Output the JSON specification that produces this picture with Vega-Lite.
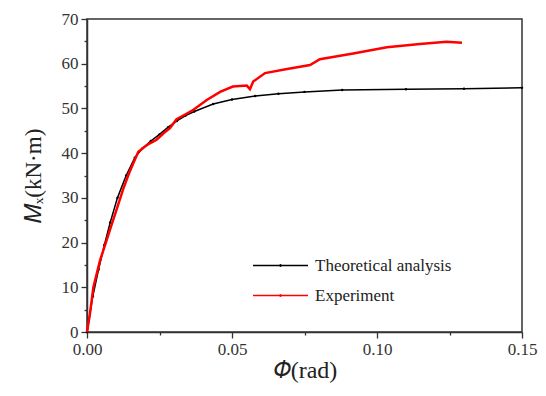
{
  "$schema": "https://vega.github.io/schema/vega-lite/v6.json",
  "autosize": {"type": "none"},
  "padding": {"left": 87, "top": 19, "right": 24, "bottom": 64},
  "width": 435,
  "height": 313,
  "background": "white",
  "config": {
    "view": {"stroke": "#333333", "strokeWidth": 1.5},
    "axis": {
      "domainColor": "#333333",
      "domainWidth": 1.5,
      "tickColor": "#333333",
      "tickWidth": 1.3,
      "grid": false
    }
  },
  "data": {
    "values": [
      {"phi": 0, "m": 0, "s": "Theoretical analysis"},
      {"phi": 0.002, "m": 8, "s": "Theoretical analysis"},
      {"phi": 0.004, "m": 14, "s": "Theoretical analysis"},
      {"phi": 0.006, "m": 19.5, "s": "Theoretical analysis"},
      {"phi": 0.008, "m": 24.5, "s": "Theoretical analysis"},
      {"phi": 0.0105, "m": 30, "s": "Theoretical analysis"},
      {"phi": 0.0135, "m": 35, "s": "Theoretical analysis"},
      {"phi": 0.0165, "m": 39, "s": "Theoretical analysis"},
      {"phi": 0.019, "m": 41, "s": "Theoretical analysis"},
      {"phi": 0.022, "m": 42.7, "s": "Theoretical analysis"},
      {"phi": 0.025, "m": 44.2, "s": "Theoretical analysis"},
      {"phi": 0.028, "m": 45.8, "s": "Theoretical analysis"},
      {"phi": 0.031, "m": 47.2, "s": "Theoretical analysis"},
      {"phi": 0.034, "m": 48.4, "s": "Theoretical analysis"},
      {"phi": 0.037, "m": 49.3, "s": "Theoretical analysis"},
      {"phi": 0.0435, "m": 51.0, "s": "Theoretical analysis"},
      {"phi": 0.05, "m": 52.0, "s": "Theoretical analysis"},
      {"phi": 0.058, "m": 52.8, "s": "Theoretical analysis"},
      {"phi": 0.066, "m": 53.3, "s": "Theoretical analysis"},
      {"phi": 0.075, "m": 53.7, "s": "Theoretical analysis"},
      {"phi": 0.088, "m": 54.1, "s": "Theoretical analysis"},
      {"phi": 0.11, "m": 54.3, "s": "Theoretical analysis"},
      {"phi": 0.13, "m": 54.4, "s": "Theoretical analysis"},
      {"phi": 0.15, "m": 54.6, "s": "Theoretical analysis"},
      {"phi": 0, "m": 0, "s": "Experiment"},
      {"phi": 0.001, "m": 4, "s": "Experiment"},
      {"phi": 0.0022, "m": 10, "s": "Experiment"},
      {"phi": 0.0045, "m": 16, "s": "Experiment"},
      {"phi": 0.0065, "m": 20, "s": "Experiment"},
      {"phi": 0.0085, "m": 24, "s": "Experiment"},
      {"phi": 0.0105, "m": 28, "s": "Experiment"},
      {"phi": 0.0125, "m": 32, "s": "Experiment"},
      {"phi": 0.0145, "m": 35.5, "s": "Experiment"},
      {"phi": 0.016, "m": 37.8, "s": "Experiment"},
      {"phi": 0.0177, "m": 40.3, "s": "Experiment"},
      {"phi": 0.02, "m": 41.5, "s": "Experiment"},
      {"phi": 0.0217, "m": 42.2, "s": "Experiment"},
      {"phi": 0.024, "m": 43, "s": "Experiment"},
      {"phi": 0.0265, "m": 44.5, "s": "Experiment"},
      {"phi": 0.0286, "m": 45.6, "s": "Experiment"},
      {"phi": 0.0309, "m": 47.6, "s": "Experiment"},
      {"phi": 0.034, "m": 48.7, "s": "Experiment"},
      {"phi": 0.0367, "m": 49.7, "s": "Experiment"},
      {"phi": 0.0413, "m": 51.9, "s": "Experiment"},
      {"phi": 0.0459, "m": 53.7, "s": "Experiment"},
      {"phi": 0.0503, "m": 54.9, "s": "Experiment"},
      {"phi": 0.0551, "m": 55.1, "s": "Experiment"},
      {"phi": 0.0562, "m": 54.3, "s": "Experiment"},
      {"phi": 0.0573, "m": 56.0, "s": "Experiment"},
      {"phi": 0.0614, "m": 57.9, "s": "Experiment"},
      {"phi": 0.069, "m": 58.8, "s": "Experiment"},
      {"phi": 0.0769, "m": 59.7, "s": "Experiment"},
      {"phi": 0.0803, "m": 61.0, "s": "Experiment"},
      {"phi": 0.0918, "m": 62.3, "s": "Experiment"},
      {"phi": 0.1034, "m": 63.7, "s": "Experiment"},
      {"phi": 0.1148, "m": 64.4, "s": "Experiment"},
      {"phi": 0.124, "m": 64.9, "s": "Experiment"},
      {"phi": 0.1293, "m": 64.7, "s": "Experiment"}
    ]
  },
  "encoding": {
    "x": {
      "field": "phi", "type": "quantitative",
      "scale": {"domain": [0, 0.15], "nice": false, "zero": false},
      "axis": {
        "title": "𝛷(rad)",
        "values": [0, 0.025, 0.05, 0.075, 0.1, 0.125, 0.15],
        "labelExpr": "abs(datum.value*20 - round(datum.value*20)) < 0.001 ? format(datum.value, '.2f') : ''",
        "tickSize": {"condition": {"test": "abs(datum.value*20 - round(datum.value*20)) < 0.001", "value": 6}, "value": 3},
        "labelFont": "Liberation Serif",
        "labelFontSize": 17,
        "labelColor": "#333333",
        "titleFont": "Liberation Serif",
        "titleFontSize": 24,
        "titleFontWeight": "normal",
        "titleColor": "#222222",
        "labelPadding": 3,
        "labelFlush": false,
        "titlePadding": 1
      }
    },
    "y": {
      "field": "m", "type": "quantitative",
      "scale": {"domain": [0, 70], "nice": false},
      "axis": {
        "title": "𝑀ₓ(kN·m)",
        "values": [0, 5, 10, 15, 20, 25, 30, 35, 40, 45, 50, 55, 60, 65, 70],
        "labelExpr": "datum.value % 10 === 0 ? format(datum.value, 'd') : ''",
        "tickSize": {"condition": {"test": "datum.value % 10 === 0", "value": 6}, "value": 3},
        "labelFont": "Liberation Serif",
        "labelFontSize": 17,
        "labelColor": "#333333",
        "titleFont": "Liberation Serif",
        "titleFontSize": 23,
        "titleFontWeight": "normal",
        "titleColor": "#222222",
        "labelPadding": 3,
        "labelFlush": false,
        "titlePadding": 16
      }
    },
    "color": {
      "field": "s", "type": "nominal",
      "scale": {"domain": ["Theoretical analysis", "Experiment"], "range": ["#000000", "#ff0000"]},
      "legend": {
        "title": null,
        "orient": "none",
        "legendX": 185,
        "legendY": 238,
        "symbolType": "M-5,0H5M-0.15,0A0.15,0.15 0 1,0 0.15,0A0.15,0.15 0 1,0 -0.15,0",
        "symbolSize": 121,
        "symbolStrokeWidth": 1.3,
        "symbolFillColor": "transparent",
        "labelFont": "Liberation Serif",
        "labelFontSize": 17,
        "labelColor": "#222222",
        "rowPadding": 12,
        "labelOffset": 26
      }
    },
    "order": {"field": "phi", "type": "quantitative"}
  },
  "layer": [
    {
      "transform": [{"filter": "datum.s === 'Theoretical analysis'"}],
      "mark": {"type": "line", "strokeWidth": 1.5, "point": {"filled": true, "size": 6, "color": "#000000"}}
    },
    {
      "transform": [{"filter": "datum.s === 'Experiment'"}],
      "mark": {"type": "line", "strokeWidth": 2.5}
    }
  ]
}
